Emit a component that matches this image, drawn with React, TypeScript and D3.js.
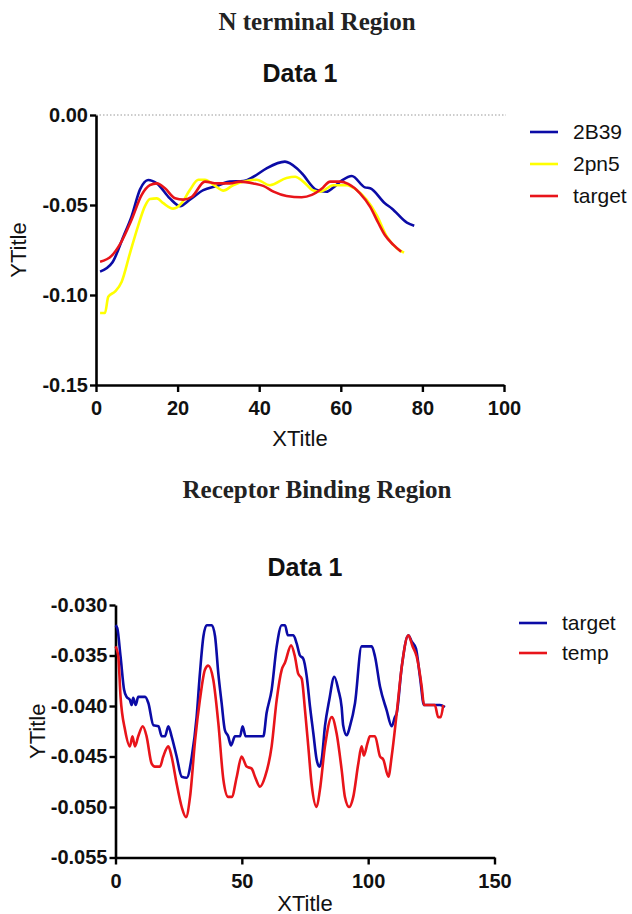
import React, { useEffect, useRef } from 'react'
import * as d3 from 'd3'

// N terminal region
const nTermB39X = [1, 4, 6.7, 8.7, 10.8, 12.8, 14.9, 18.1, 20.6, 23, 26.3, 29.6, 32.8, 36.1, 38.6, 41.8, 46.3, 49.2, 50.5, 54.1, 56.5, 58.2, 60.2, 62.7, 65.9, 67.2, 70.8, 72.5, 76.2, 78]
const nTermB39Y = [-0.087, -0.082, -0.0676, -0.0565, -0.0413, -0.0361, -0.038, -0.0463, -0.0506, -0.047, -0.0417, -0.0394, -0.037, -0.0367, -0.0343, -0.0296, -0.0259, -0.0296, -0.0325, -0.0417, -0.0426, -0.0402, -0.0365, -0.0339, -0.0402, -0.0407, -0.049, -0.0519, -0.0598, -0.0615]
const nTermPn5X = [1, 2.2, 3, 4.7, 6.3, 8.3, 10.4, 12, 13.2, 14.9, 16.5, 18.9, 21, 23, 25.1, 26.7, 29.2, 31.2, 33.6, 36.9, 39.4, 42.6, 46.7, 48.8, 50.8, 53.3, 54.9, 58.2, 61.4, 63.9, 66.3, 68.8, 71.3, 73.7, 75.5]
const nTermPn5Y = [-0.11, -0.11, -0.101, -0.098, -0.0926, -0.077, -0.061, -0.0506, -0.0467, -0.0463, -0.049, -0.052, -0.049, -0.0417, -0.036, -0.036, -0.0394, -0.042, -0.039, -0.0367, -0.036, -0.039, -0.035, -0.0343, -0.037, -0.042, -0.0426, -0.039, -0.039, -0.0417, -0.047, -0.0556, -0.0676, -0.074, -0.0765]
const nTermTargetX = [1, 3.8, 5.9, 8.7, 11.2, 13.2, 14.9, 16.9, 19.4, 21.4, 23.5, 26.7, 29.6, 32.8, 35.3, 38.6, 41, 43.5, 46.7, 50.4, 52.9, 55.3, 57.4, 59.8, 61.8, 64.7, 67.2, 69.2, 70.8, 72.9, 74.8]
const nTermTargetY = [-0.0815, -0.0783, -0.0717, -0.0583, -0.0444, -0.039, -0.038, -0.0407, -0.0463, -0.047, -0.0454, -0.037, -0.038, -0.038, -0.037, -0.038, -0.0394, -0.0426, -0.045, -0.0457, -0.0444, -0.041, -0.037, -0.037, -0.0383, -0.0435, -0.051, -0.06, -0.0667, -0.0722, -0.076]
const nTermXTicks = [0, 20, 40, 60, 80, 100]
const nTermYTicks = [0, -0.05, -0.1, -0.15]

// Receptor binding region
const rbTargetX = [0, 0.7, 2, 3.4, 4.4, 5.7, 6.4, 7, 8, 9, 11.7, 13, 15, 17, 18.3, 19.6, 20.9, 22.2, 24.2, 26.2, 28.2, 30.2, 32.1, 33.4, 34.8, 36.1, 38.1, 39.4, 40.7, 42, 43.3, 44.6, 45.7, 47.3, 49.3, 50.3, 51.5, 58.5, 59.8, 61.8, 63.8, 65.8, 67.1, 68.2, 70.4, 71.7, 73, 74.3, 75.7, 77, 78.3, 79.6, 80.7, 81.6, 82.9, 84.6, 86.6, 88.2, 89.5, 90.1, 91.5, 92.8, 94.8, 97.4, 101.4, 102.7, 104.7, 107.3, 109.3, 110.6, 111.3, 113.3, 115.9, 117.2, 118.9, 120.5, 122.1, 128.4, 130.4]
const rbTargetY = [-0.032, -0.0323, -0.0351, -0.0384, -0.0391, -0.0394, -0.0399, -0.0392, -0.0399, -0.0391, -0.0391, -0.0397, -0.0419, -0.042, -0.043, -0.043, -0.042, -0.043, -0.045, -0.047, -0.0471, -0.045, -0.0411, -0.0368, -0.0331, -0.032, -0.032, -0.0331, -0.0368, -0.0397, -0.0424, -0.043, -0.0439, -0.043, -0.043, -0.042, -0.043, -0.043, -0.0407, -0.0384, -0.0341, -0.032, -0.032, -0.033, -0.033, -0.0338, -0.035, -0.0353, -0.0371, -0.0401, -0.0427, -0.0453, -0.046, -0.0453, -0.042, -0.0394, -0.0371, -0.0384, -0.0401, -0.0419, -0.0429, -0.042, -0.0397, -0.0341, -0.0341, -0.0351, -0.0381, -0.0404, -0.042, -0.0411, -0.0407, -0.0361, -0.033, -0.0336, -0.0343, -0.0371, -0.0399, -0.0399, -0.0401]
const rbTempX = [0, 1.1, 2, 3.8, 5.7, 6.7, 7.7, 9, 10.8, 12.3, 14.3, 15.6, 17.6, 18.9, 20.9, 22.2, 24.2, 26.2, 27.9, 29.5, 31.5, 33.4, 35.4, 36.7, 38.7, 40.7, 42.7, 44.6, 46, 48, 49.9, 51.9, 53.9, 55.2, 57.2, 59.2, 61.8, 63.8, 65.8, 67.1, 69.5, 71, 72.3, 73.7, 75, 76.3, 77.6, 79.6, 80.9, 82.9, 85.6, 87.5, 89.5, 90.8, 92.5, 94.1, 96.1, 97.4, 98.3, 99.7, 100.7, 102.7, 104.7, 106, 108, 109.3, 111.3, 113.3, 115.9, 117.6, 119.2, 121.2, 122.1, 126.4, 127.7, 128.7, 129.7]
const rbTempY = [-0.0341, -0.0351, -0.0391, -0.0424, -0.044, -0.043, -0.044, -0.043, -0.042, -0.043, -0.0457, -0.046, -0.046, -0.045, -0.044, -0.045, -0.0477, -0.05, -0.051, -0.049, -0.0434, -0.0394, -0.0364, -0.036, -0.0374, -0.0417, -0.0473, -0.049, -0.049, -0.047, -0.045, -0.046, -0.0462, -0.047, -0.048, -0.047, -0.044, -0.0394, -0.0364, -0.0357, -0.034, -0.0351, -0.0368, -0.0373, -0.0404, -0.044, -0.0477, -0.05, -0.0483, -0.044, -0.0411, -0.0427, -0.0463, -0.049, -0.05, -0.049, -0.0457, -0.044, -0.0449, -0.0437, -0.043, -0.043, -0.045, -0.0453, -0.047, -0.045, -0.0407, -0.0361, -0.033, -0.0341, -0.0351, -0.0381, -0.0399, -0.0399, -0.0411, -0.0411, -0.0399]
const rbXTicks = [0, 50, 100, 150]
const rbYTicks = [-0.03, -0.035, -0.04, -0.045, -0.05, -0.055]

const SANS = '"Liberation Sans", Arial, sans-serif'
const SERIF = '"Liberation Serif", "DejaVu Serif", serif'

type Series = { name: string, xs: number[], ys: number[], color: string }

function drawChart(svg: any, opt: any) {
  const { left, right, top, bottom, xDomain, yDomain, xTicks, yTicks, digits, series } = opt
  const x = d3.scaleLinear().domain(xDomain).range([left, right])
  const y = d3.scaleLinear().domain(yDomain).range([bottom, top])
  const g = svg.append('g')

  // page heading + chart title
  g.append('text').attr('x', opt.headX).attr('y', opt.headY).attr('text-anchor', 'middle')
    .attr('font-family', SERIF).attr('font-weight', 'bold').attr('font-size', 25).attr('fill', '#222')
    .text(opt.head)
  g.append('text').attr('x', (left + right) / 2).attr('y', opt.titleY).attr('text-anchor', 'middle')
    .attr('font-family', SANS).attr('font-weight', 'bold').attr('font-size', 25).attr('fill', '#111')
    .text('Data 1')

  if (opt.zeroLine) {
    g.append('line').attr('x1', left).attr('x2', right + 2).attr('y1', y(0)).attr('y2', y(0))
      .attr('stroke', '#999').attr('stroke-width', 1).attr('stroke-dasharray', '1.5,2')
  }

  const xAxis = g.append('g').attr('transform', `translate(0,${bottom})`)
    .call(d3.axisBottom(x).tickValues(xTicks).tickSize(7).tickPadding(2).tickSizeOuter(0)
      .tickFormat((d: any) => String(d)))
  const yAxis = g.append('g').attr('transform', `translate(${left},0)`)
    .call(d3.axisLeft(y).tickValues(yTicks).tickSize(6).tickPadding(2).tickSizeOuter(0)
      .tickFormat((d: any) => (+d).toFixed(digits)))
  for (const a of [xAxis, yAxis]) {
    a.select('.domain').attr('stroke', '#000').attr('stroke-width', 2.6)
    a.selectAll('.tick line').attr('stroke', '#000').attr('stroke-width', 2.4)
    a.selectAll('.tick text').attr('font-family', SANS).attr('font-weight', 'bold')
      .attr('font-size', 20).attr('fill', '#111')
  }
  xAxis.selectAll('.tick text').attr('dy', '1.05em')

  g.append('text').attr('x', (left + right) / 2).attr('y', bottom + opt.xTitleOff).attr('text-anchor', 'middle')
    .attr('font-family', SANS).attr('font-size', 22).attr('fill', '#111').text('XTitle')
  g.append('text').attr('transform', `translate(${opt.yTitleX},${(top + bottom) / 2}) rotate(-90)`)
    .attr('text-anchor', 'middle').attr('font-family', SANS).attr('font-size', 22).attr('fill', '#111')
    .text('YTitle')

  series.forEach((s: Series, k: number) => {
    const pts = s.xs.map((v, i) => [v, s.ys[i]] as [number, number])
    const path = d3.line<[number, number]>().x(d => x(d[0])).y(d => y(d[1])).curve(d3.curveMonotoneX)
    g.append('path').attr('d', path(pts)).attr('fill', 'none').attr('stroke', s.color)
      .attr('stroke-width', 2.6).attr('stroke-linejoin', 'round')
    const ly = opt.legendY + k * opt.legendGap
    g.append('line').attr('x1', opt.legendX).attr('x2', opt.legendX + 28).attr('y1', ly).attr('y2', ly)
      .attr('stroke', s.color).attr('stroke-width', 2.6)
    g.append('text').attr('x', opt.legendX + 43).attr('y', ly).attr('dy', '0.35em')
      .attr('font-family', SANS).attr('font-size', 21).attr('fill', '#111').text(s.name)
  })
}

export default function App() {
  const svgRef = useRef<SVGSVGElement>(null)

  useEffect(() => {
    const svg = d3.select(svgRef.current)
    svg.selectAll('*').remove()
    svg.append('rect').attr('width', 632).attr('height', 914).attr('fill', '#fff')

    drawChart(svg, {
      head: 'N terminal Region', headX: 317, headY: 30, titleY: 82,
      left: 96, right: 504, top: 115, bottom: 385,
      xDomain: [0, 100], yDomain: [-0.15, 0], xTicks: nTermXTicks, yTicks: nTermYTicks, digits: 2,
      xTitleOff: 61, yTitleX: 26, zeroLine: true,
      legendX: 530, legendY: 132, legendGap: 32,
      series: [
        { name: '2B39', xs: nTermB39X, ys: nTermB39Y, color: '#0b0ba6' },
        { name: '2pn5', xs: nTermPn5X, ys: nTermPn5Y, color: '#ffff00' },
        { name: 'target', xs: nTermTargetX, ys: nTermTargetY, color: '#e8141a' },
      ],
    })

    drawChart(svg, {
      head: 'Receptor Binding Region', headX: 317, headY: 498, titleY: 576,
      left: 115.5, right: 494.5, top: 605, bottom: 857.5,
      xDomain: [0, 150], yDomain: [-0.055, -0.03], xTicks: rbXTicks, yTicks: rbYTicks, digits: 3,
      xTitleOff: 53, yTitleX: 45, zeroLine: false,
      legendX: 519, legendY: 623, legendGap: 30,
      series: [
        { name: 'target', xs: rbTargetX, ys: rbTargetY, color: '#0b0ba6' },
        { name: 'temp', xs: rbTempX, ys: rbTempY, color: '#e8141a' },
      ],
    })
  }, [])

  return (
    <svg ref={svgRef} width={632} height={914} style={{ position: 'absolute', left: 0, top: 0 }}></svg>
  )
}
